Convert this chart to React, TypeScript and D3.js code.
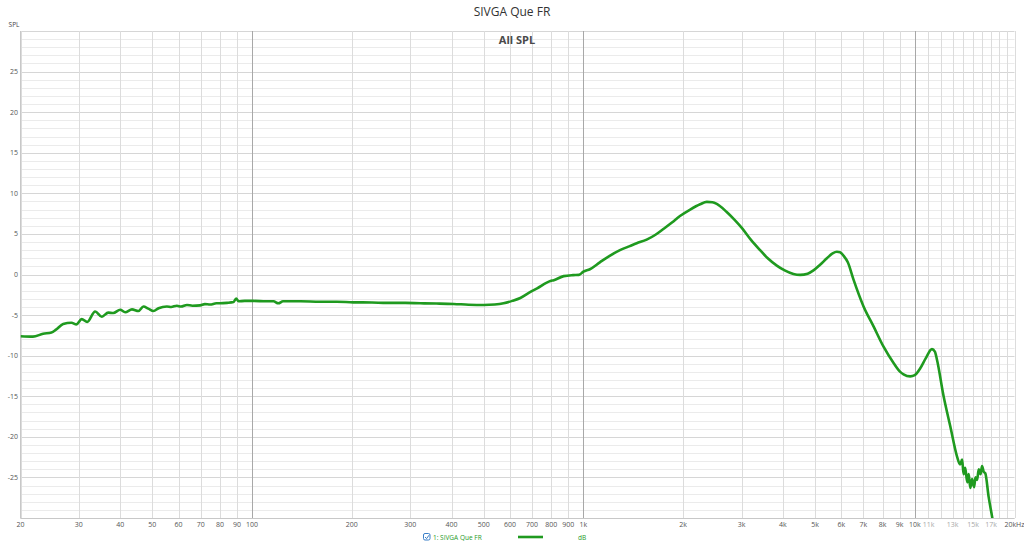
import React, { useEffect, useRef } from 'react';
import * as d3 from 'd3';

// frequency response readings (Hz, dB)
const freqs = [
  20, 21.8, 23.4, 24.8, 25.6, 26.9, 28.5, 29.5, 30.6, 31.8, 33.6, 35.2, 36.8, 38.1, 40, 41.4, 43.4, 45.4, 47,
  48.6, 50.4, 52.2, 55.3, 57, 59.3, 61, 63.6, 66, 69.7, 72, 74.7, 78, 80, 84, 87.9, 89.5, 91, 95, 101, 110,
  116, 120, 124, 140, 160, 180, 202, 230, 255, 290, 322, 360, 406, 450, 500, 540, 574, 610, 645, 692, 725,
  795, 814, 872, 930, 969, 1000, 1046, 1121, 1200, 1289, 1380, 1448, 1552, 1650, 1742, 1850, 1956, 2100,
  2250, 2357, 2450, 2526, 2707, 2850, 3006, 3200, 3414, 3600, 3834, 4050, 4303, 4510, 4750, 4946, 5180,
  5430, 5650, 5820, 5950, 6100, 6280, 6530, 7000, 7510, 8050, 8630, 9040, 9250, 9690, 10000, 10390, 10800,
  11270, 11500, 11670, 12220, 12800, 13410, 13700, 13900, 14040, 14200, 14400, 14550, 14710, 14890, 15100,
  15250, 15420, 15600, 15800, 15960, 16150, 16330, 16710, 17110, 17300,
];
const spl = [
  -7.6, -7.66, -7.3, -7.15, -6.8, -6.1, -5.95, -6.15, -5.5, -5.85, -4.55, -5.2, -4.7, -4.75, -4.35, -4.65,
  -4.3, -4.5, -3.95, -4.2, -4.5, -4.15, -3.95, -4.0, -3.85, -3.95, -3.75, -3.85, -3.8, -3.65, -3.7, -3.55,
  -3.55, -3.5, -3.4, -2.95, -3.3, -3.25, -3.25, -3.3, -3.3, -3.55, -3.3, -3.3, -3.35, -3.35, -3.43, -3.45,
  -3.5, -3.5, -3.55, -3.58, -3.63, -3.72, -3.76, -3.7, -3.55, -3.25, -2.9, -2.15, -1.7, -0.8, -0.7, -0.2,
  -0.08, -0.05, 0.35, 0.65, 1.5, 2.3, 3.0, 3.5, 3.85, 4.3, 4.9, 5.6, 6.4, 7.2, 8.0, 8.65, 8.95, 8.9, 8.7,
  7.7, 6.8, 5.75, 4.3, 3.0, 2.0, 1.1, 0.5, 0.06, -0.05, 0.1, 0.5, 1.2, 2.0, 2.6, 2.8, 2.75, 2.3, 1.5, -0.6,
  -3.9, -6.4, -8.9, -10.9, -12.0, -12.3, -12.55, -12.4, -11.55, -10.3, -9.2, -9.5, -10.5, -15.0, -18.7,
  -22.4, -23.4, -22.8, -24.6, -23.8, -25.6, -24.6, -26.3, -25.2, -26.2, -25.0, -25.3, -24.0, -24.6, -23.6,
  -24.3, -24.5, -27.4, -29.8, -31,
];

const xGrid = [
  20, 30, 40, 50, 60, 70, 80, 90, 100, 200, 300, 400, 500, 600, 700, 800, 900, 1000, 2000, 3000, 4000,
  5000, 6000, 7000, 8000, 9000, 10000, 11000, 12000, 13000, 14000, 15000, 16000, 17000, 18000, 19000, 20000,
];
const xTickValues = [
  20, 30, 40, 50, 60, 70, 80, 90, 100, 200, 300, 400, 500, 600, 700, 800, 900, 1000, 2000, 3000, 4000,
  5000, 6000, 7000, 8000, 9000, 10000, 11000, 13000, 15000, 17000, 20000,
];
const xTickLabels = [
  '20', '30', '40', '50', '60', '70', '80', '90', '100', '200', '300', '400', '500', '600', '700', '800',
  '900', '1k', '2k', '3k', '4k', '5k', '6k', '7k', '8k', '9k', '10k', '11k', '13k', '15k', '17k', '20kHz',
];
const yTickValues = [25, 20, 15, 10, 5, 0, -5, -10, -15, -20, -25];

const GREEN = '#1f9a1f';
const FONT = '"Open Sans", "DejaVu Sans", sans-serif';

export default function App() {
  const chartRef = useRef<SVGSVGElement>(null);

  useEffect(() => {
    document.body.style.margin = '0';
    const width = 1024;
    const height = 545;
    const margin = { top: 31, right: 9.5, bottom: 27, left: 20.5 };

    const svg = d3.select(chartRef.current);
    svg.selectAll('*').remove();
    svg.attr('width', width).attr('height', height);

    svg.append('rect').attr('width', width).attr('height', height).attr('fill', '#fff');

    const x = d3.scaleLog().domain([20, 20000]).range([margin.left, width - margin.right]);
    const y = d3.scaleLinear().domain([-30, 30]).range([height - margin.bottom, margin.top]);

    // horizontal grid, 1 dB steps
    const grid = svg.append('g');
    grid.selectAll('line.h')
      .data(d3.range(-30, 31))
      .enter()
      .append('line')
      .attr('x1', x(20))
      .attr('x2', x(20000))
      .attr('y1', d => Math.round(y(d)) + 0.5)
      .attr('y2', d => Math.round(y(d)) + 0.5)
      .attr('stroke', d => (d % 5 === 0 ? '#d6d6d6' : '#ebebeb'))
      .attr('stroke-width', 1);

    grid.selectAll('line.v')
      .data(xGrid)
      .enter()
      .append('line')
      .attr('x1', d => Math.round(x(d)) + 0.5)
      .attr('x2', d => Math.round(x(d)) + 0.5)
      .attr('y1', y(30))
      .attr('y2', y(-30))
      .attr('stroke', d => ([100, 1000, 10000].includes(d) ? '#a8a8a8' : '#dcdcdc'))
      .attr('stroke-width', 1);

    // axis frame
    svg.append('line')
      .attr('x1', x(20)).attr('x2', x(20))
      .attr('y1', y(30)).attr('y2', y(-30))
      .attr('stroke', '#c8c8c8');
    svg.append('line')
      .attr('x1', x(20)).attr('x2', x(20000))
      .attr('y1', y(-30) + 0.5).attr('y2', y(-30) + 0.5)
      .attr('stroke', '#c8c8c8');

    // x tick labels
    svg.append('g')
      .selectAll('text')
      .data(xTickValues)
      .enter()
      .append('text')
      .attr('x', d => x(d))
      .attr('y', 527)
      .attr('text-anchor', 'middle')
      .attr('font-family', FONT)
      .attr('font-size', 7)
      .attr('fill', d => ([11000, 13000, 15000, 17000].includes(d) ? '#a8a8a8' : '#555'))
      .text((d, i) => xTickLabels[i]);

    // y tick labels
    svg.append('g')
      .selectAll('text')
      .data(yTickValues)
      .enter()
      .append('text')
      .attr('x', 18)
      .attr('y', d => y(d) + 2.5)
      .attr('text-anchor', 'end')
      .attr('font-family', FONT)
      .attr('font-size', 7)
      .attr('fill', '#555')
      .text(d => d);

    svg.append('text')
      .attr('x', 14).attr('y', 27)
      .attr('text-anchor', 'middle')
      .attr('font-family', FONT).attr('font-size', 6.5)
      .attr('fill', '#444')
      .text('SPL');

    // titles
    svg.append('text')
      .attr('x', 512).attr('y', 16)
      .attr('text-anchor', 'middle')
      .attr('font-family', FONT).attr('font-size', 12)
      .attr('fill', '#333')
      .text('SIVGA Que FR');

    svg.append('text')
      .attr('x', 517).attr('y', 43.5)
      .attr('text-anchor', 'middle')
      .attr('font-family', FONT).attr('font-size', 11)
      .attr('font-weight', 'bold')
      .attr('fill', '#4a4a4a')
      .text('All SPL');

    // curve
    svg.append('clipPath').attr('id', 'plot-clip')
      .append('rect')
      .attr('x', x(20)).attr('y', y(30))
      .attr('width', x(20000) - x(20)).attr('height', y(-30) - y(30));

    const pts: [number, number][] = freqs.map((f, i) => [f, spl[i]]);
    const line = d3.line<[number, number]>()
      .x(d => x(d[0]))
      .y(d => y(d[1]))
      .curve(d3.curveMonotoneX);

    svg.append('path')
      .datum(pts)
      .attr('clip-path', 'url(#plot-clip)')
      .attr('d', line)
      .attr('fill', 'none')
      .attr('stroke', GREEN)
      .attr('stroke-width', 2.6)
      .attr('stroke-linejoin', 'round');

    // legend
    const legend = svg.append('g');
    legend.append('rect')
      .attr('x', 423.5).attr('y', 533.5)
      .attr('width', 6.5).attr('height', 6.5)
      .attr('rx', 1.5)
      .attr('fill', '#fff')
      .attr('stroke', '#3a7fc8');
    legend.append('path')
      .attr('d', 'M425 537 L426.6 538.6 L429 535.2')
      .attr('fill', 'none')
      .attr('stroke', '#3a7fc8')
      .attr('stroke-width', 1);
    legend.append('text')
      .attr('x', 433).attr('y', 539.5)
      .attr('font-family', FONT).attr('font-size', 6.5)
      .attr('fill', GREEN)
      .text('1: SIVGA Que FR');
    legend.append('line')
      .attr('x1', 518).attr('x2', 543)
      .attr('y1', 537).attr('y2', 537)
      .attr('stroke', GREEN)
      .attr('stroke-width', 2.6);
    legend.append('text')
      .attr('x', 582).attr('y', 539.5)
      .attr('text-anchor', 'middle')
      .attr('font-family', FONT).attr('font-size', 6.5)
      .attr('fill', GREEN)
      .text('dB');
  }, []);

  return <svg ref={chartRef} style={{ display: 'block' }} />;
}
